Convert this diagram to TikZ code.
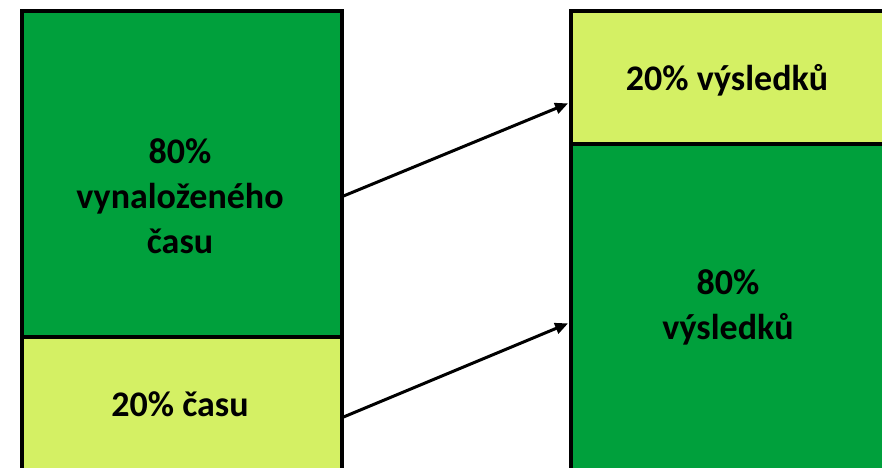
\documentclass[tikz,border=0pt]{standalone}
\usepackage{fontspec}
\setmainfont{Carlito}
\usetikzlibrary{arrows.meta}
\definecolor{dkgreen}{RGB}{0,160,60}
\definecolor{ltgreen}{RGB}{212,240,100}
\begin{document}
\begin{tikzpicture}[x=1pt,y=-1pt,
  box/.style={draw=black,line width=3.5pt,rectangle,inner sep=0pt,anchor=north west},
  lbl/.style={font=\fontsize{36}{45}\selectfont\bfseries,align=center,text=black},
  arr/.style={line width=3pt,-{Triangle[length=13pt,width=11pt]},shorten >=1pt}]
\useasboundingbox (0,0) rectangle (882,467);
\clip (0,0) rectangle (882,467);
\node[box,fill=dkgreen,minimum width=320pt,minimum height=326pt] (ltop) at (20,9) {};
\node[box,fill=ltgreen,minimum width=320pt,minimum height=160pt] (lbot) at (20,335) {};
\node[box,fill=ltgreen,minimum width=340pt,minimum height=133pt] (rtop) at (569,9) {};
\node[box,fill=dkgreen,minimum width=340pt,minimum height=340pt] (rbot) at (569,142) {};
\node[lbl] (tl1) at (180,196) {80\%\\vynaloženého\\času};
\node[lbl] (tl2) at (180,404) {20\% času};
\node[lbl] (tr1) at (727,80) {20\% výsledků};
\node[lbl] (tr2) at (728,307) {80\%\\výsledků};
\draw[arr] (ltop.east |- 0,196) -- (rtop.west |- 0,103);
\draw[arr] (lbot.east |- 0,417) -- (rbot.west |- 0,323);
\end{tikzpicture}
\end{document}
